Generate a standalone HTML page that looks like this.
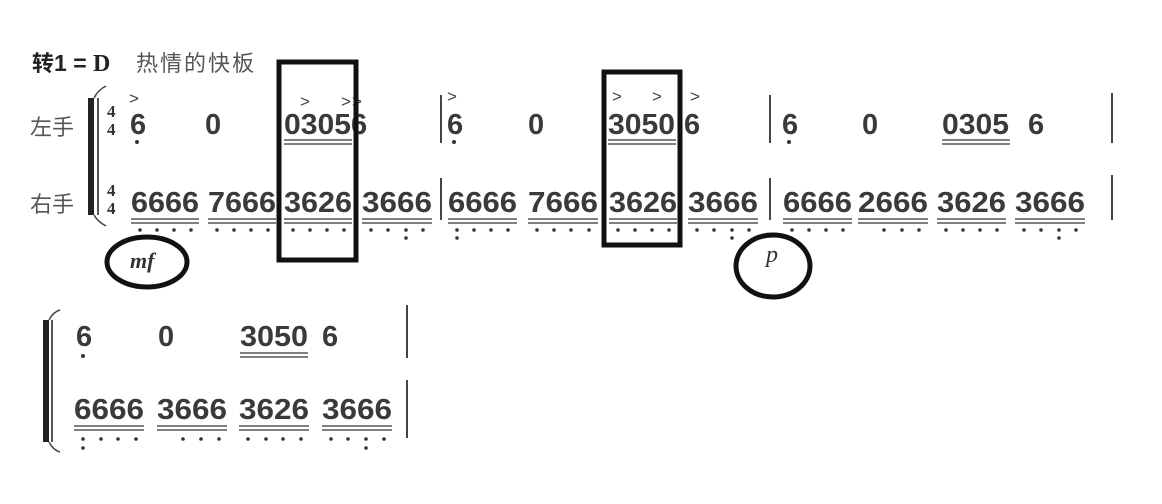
<!DOCTYPE html>
<html><head><meta charset="utf-8"><style>
html,body{margin:0;padding:0;background:#fff;}
svg{display:block}
.d{font-family:"Liberation Sans Narrow","Liberation Sans",sans-serif;font-size:29px;font-weight:bold;fill:#3a3a3a;}
.u{stroke:#555;stroke-width:1.6}
.k{fill:#333}
.acc{font-family:"Liberation Sans",sans-serif;font-size:17px;fill:#444}
</style></head><body>
<svg width="1162" height="504" viewBox="0 0 1162 504" xmlns="http://www.w3.org/2000/svg">
<rect width="1162" height="504" fill="#fff"/>
<text x="32" y="71" font-family="'Liberation Sans','Noto Sans CJK SC',sans-serif" font-size="22" font-weight="bold" fill="#222">转<tspan font-size="23">1 = </tspan><tspan font-family="'Liberation Serif',serif" font-size="24">D</tspan></text>
<text x="136" y="71" font-family="'Liberation Sans','Noto Sans CJK SC',sans-serif" font-size="22" fill="#555" letter-spacing="2">热情的快板</text>
<text x="30" y="135" font-family="'Liberation Sans','Noto Sans CJK SC',sans-serif" font-size="22" fill="#555">左手</text>
<text x="30" y="212" font-family="'Liberation Sans','Noto Sans CJK SC',sans-serif" font-size="22" fill="#555">右手</text>
<!-- brackets -->
<rect x="88" y="98" width="6" height="117" fill="#222"/>
<rect x="97" y="98" width="2" height="117" fill="#555"/>
<path d="M94 98 Q98 90 106 86 M94 215 Q98 222 106 226" stroke="#444" fill="none" stroke-width="1.5"/>
<rect x="43" y="320" width="6" height="122" fill="#222"/>
<rect x="51" y="320" width="2" height="122" fill="#555"/>
<path d="M49 320 Q53 312 60 310 M49 442 Q53 450 60 452" stroke="#444" fill="none" stroke-width="1.5"/>
<!-- time sigs -->
<g font-family="'Liberation Serif',serif" font-size="17" font-weight="bold" fill="#333">
<text x="107" y="117">4</text><text x="107" y="135">4</text>
<text x="107" y="196">4</text><text x="107" y="214">4</text>
</g>
<!-- bar lines -->
<g stroke="#444" stroke-width="2">
<line x1="441" y1="95" x2="441" y2="143"/><line x1="441" y1="178" x2="441" y2="220"/>
<line x1="770" y1="95" x2="770" y2="143"/><line x1="770" y1="178" x2="770" y2="220"/>
<line x1="1112" y1="93" x2="1112" y2="143"/><line x1="1112" y1="175" x2="1112" y2="220"/>
<line x1="407" y1="305" x2="407" y2="358"/><line x1="407" y1="380" x2="407" y2="438"/>
</g>
<!-- row1 -->
<g class="d">
<text x="130" y="134">6</text><text x="205" y="134">0</text>
<text x="284" y="134" textLength="67" lengthAdjust="spacingAndGlyphs">0305</text><text x="351" y="134">6</text>
<text x="447" y="134">6</text><text x="528" y="134">0</text>
<text x="608" y="134" textLength="67" lengthAdjust="spacingAndGlyphs">3050</text><text x="684" y="134">6</text>
<text x="782" y="134">6</text><text x="862" y="134">0</text>
<text x="942" y="134" textLength="67" lengthAdjust="spacingAndGlyphs">0305</text><text x="1028" y="134">6</text>
</g>
<g class="k"><circle cx="137" cy="142" r="2"/><circle cx="454" cy="142" r="2"/><circle cx="789" cy="142" r="2"/></g>
<g class="u">
<line x1="284" y1="140" x2="352" y2="140"/><line x1="284" y1="144" x2="352" y2="144"/>
<line x1="608" y1="140" x2="676" y2="140"/><line x1="608" y1="144" x2="676" y2="144"/>
<line x1="942" y1="140" x2="1010" y2="140"/><line x1="942" y1="144" x2="1010" y2="144"/>
</g>
<g class="acc">
<text x="129" y="104">&gt;</text><text x="300" y="107">&gt;</text><text x="341" y="107">&gt;</text><text x="352" y="107">&gt;</text>
<text x="447" y="102">&gt;</text><text x="612" y="102">&gt;</text><text x="652" y="102">&gt;</text><text x="690" y="102">&gt;</text>
</g>
<!-- row2 -->
<g class="d">
<text x="131" y="212" textLength="68" lengthAdjust="spacingAndGlyphs">6666</text>
<text x="208" y="212" textLength="68" lengthAdjust="spacingAndGlyphs">7666</text>
<text x="284" y="212" textLength="68" lengthAdjust="spacingAndGlyphs">3626</text>
<text x="362" y="212" textLength="70" lengthAdjust="spacingAndGlyphs">3666</text>
<text x="448" y="212" textLength="69" lengthAdjust="spacingAndGlyphs">6666</text>
<text x="528" y="212" textLength="70" lengthAdjust="spacingAndGlyphs">7666</text>
<text x="609" y="212" textLength="68" lengthAdjust="spacingAndGlyphs">3626</text>
<text x="688" y="212" textLength="70" lengthAdjust="spacingAndGlyphs">3666</text>
<text x="783" y="212" textLength="69" lengthAdjust="spacingAndGlyphs">6666</text>
<text x="858" y="212" textLength="70" lengthAdjust="spacingAndGlyphs">2666</text>
<text x="937" y="212" textLength="69" lengthAdjust="spacingAndGlyphs">3626</text>
<text x="1015" y="212" textLength="70" lengthAdjust="spacingAndGlyphs">3666</text>
</g>
<g class="u">
<line x1="131" y1="219" x2="199" y2="219"/><line x1="131" y1="223" x2="199" y2="223"/>
<line x1="208" y1="219" x2="276" y2="219"/><line x1="208" y1="223" x2="276" y2="223"/>
<line x1="284" y1="219" x2="352" y2="219"/><line x1="284" y1="223" x2="352" y2="223"/>
<line x1="362" y1="219" x2="432" y2="219"/><line x1="362" y1="223" x2="432" y2="223"/>
<line x1="448" y1="219" x2="517" y2="219"/><line x1="448" y1="223" x2="517" y2="223"/>
<line x1="528" y1="219" x2="598" y2="219"/><line x1="528" y1="223" x2="598" y2="223"/>
<line x1="609" y1="219" x2="677" y2="219"/><line x1="609" y1="223" x2="677" y2="223"/>
<line x1="688" y1="219" x2="758" y2="219"/><line x1="688" y1="223" x2="758" y2="223"/>
<line x1="783" y1="219" x2="852" y2="219"/><line x1="783" y1="223" x2="852" y2="223"/>
<line x1="858" y1="219" x2="928" y2="219"/><line x1="858" y1="223" x2="928" y2="223"/>
<line x1="937" y1="219" x2="1006" y2="219"/><line x1="937" y1="223" x2="1006" y2="223"/>
<line x1="1015" y1="219" x2="1085" y2="219"/><line x1="1015" y1="223" x2="1085" y2="223"/>
</g>
<g class="k">
<circle cx="140" cy="230" r="1.8"/><circle cx="157" cy="230" r="1.8"/><circle cx="174" cy="230" r="1.8"/><circle cx="191" cy="230" r="1.8"/>
<circle cx="217" cy="230" r="1.8"/><circle cx="234" cy="230" r="1.8"/><circle cx="251" cy="230" r="1.8"/><circle cx="268" cy="230" r="1.8"/>
<circle cx="293" cy="230" r="1.8"/><circle cx="310" cy="230" r="1.8"/><circle cx="327" cy="230" r="1.8"/><circle cx="344" cy="230" r="1.8"/>
<circle cx="371" cy="230" r="1.8"/><circle cx="388" cy="230" r="1.8"/><circle cx="406" cy="230" r="1.8"/><circle cx="406" cy="238" r="1.8"/><circle cx="423" cy="230" r="1.8"/>
<circle cx="457" cy="230" r="1.8"/><circle cx="457" cy="238" r="1.8"/><circle cx="474" cy="230" r="1.8"/><circle cx="491" cy="230" r="1.8"/><circle cx="508" cy="230" r="1.8"/>
<circle cx="537" cy="230" r="1.8"/><circle cx="554" cy="230" r="1.8"/><circle cx="571" cy="230" r="1.8"/><circle cx="589" cy="230" r="1.8"/>
<circle cx="618" cy="230" r="1.8"/><circle cx="635" cy="230" r="1.8"/><circle cx="652" cy="230" r="1.8"/><circle cx="669" cy="230" r="1.8"/>
<circle cx="697" cy="230" r="1.8"/><circle cx="714" cy="230" r="1.8"/><circle cx="732" cy="230" r="1.8"/><circle cx="732" cy="238" r="1.8"/><circle cx="749" cy="230" r="1.8"/>
<circle cx="792" cy="230" r="1.8"/><circle cx="809" cy="230" r="1.8"/><circle cx="826" cy="230" r="1.8"/><circle cx="843" cy="230" r="1.8"/>
<circle cx="884" cy="230" r="1.8"/><circle cx="902" cy="230" r="1.8"/><circle cx="919" cy="230" r="1.8"/>
<circle cx="946" cy="230" r="1.8"/><circle cx="963" cy="230" r="1.8"/><circle cx="980" cy="230" r="1.8"/><circle cx="997" cy="230" r="1.8"/>
<circle cx="1024" cy="230" r="1.8"/><circle cx="1041" cy="230" r="1.8"/><circle cx="1059" cy="230" r="1.8"/><circle cx="1059" cy="238" r="1.8"/><circle cx="1076" cy="230" r="1.8"/>
</g>
<!-- boxes -->
<rect x="279" y="62" width="77" height="198" fill="none" stroke="#111" stroke-width="5"/>
<rect x="604" y="72" width="76" height="173" fill="none" stroke="#111" stroke-width="5"/>
<!-- dynamics -->
<ellipse cx="147" cy="262" rx="40" ry="25" fill="none" stroke="#111" stroke-width="5"/>
<text x="130" y="268" font-family="'Liberation Serif',serif" font-style="italic" font-weight="bold" font-size="22" fill="#333">mf</text>
<ellipse cx="773" cy="266" rx="37" ry="31" fill="none" stroke="#111" stroke-width="5"/>
<text x="766" y="262" font-family="'Liberation Serif',serif" font-style="italic" font-size="24" fill="#333">p</text>
<!-- row3 -->
<g class="d">
<text x="76" y="346">6</text><text x="158" y="346">0</text>
<text x="240" y="346" textLength="68" lengthAdjust="spacingAndGlyphs">3050</text><text x="322" y="346">6</text>
</g>
<circle cx="83" cy="356" r="2" class="k"/>
<g class="u"><line x1="240" y1="353" x2="308" y2="353"/><line x1="240" y1="357" x2="308" y2="357"/></g>
<!-- row4 -->
<g class="d">
<text x="74" y="419" textLength="70" lengthAdjust="spacingAndGlyphs">6666</text>
<text x="157" y="419" textLength="70" lengthAdjust="spacingAndGlyphs">3666</text>
<text x="239" y="419" textLength="70" lengthAdjust="spacingAndGlyphs">3626</text>
<text x="322" y="419" textLength="70" lengthAdjust="spacingAndGlyphs">3666</text>
</g>
<g class="u">
<line x1="74" y1="426" x2="144" y2="426"/><line x1="74" y1="430" x2="144" y2="430"/>
<line x1="157" y1="426" x2="227" y2="426"/><line x1="157" y1="430" x2="227" y2="430"/>
<line x1="239" y1="426" x2="309" y2="426"/><line x1="239" y1="430" x2="309" y2="430"/>
<line x1="322" y1="426" x2="392" y2="426"/><line x1="322" y1="430" x2="392" y2="430"/>
</g>
<g class="k">
<circle cx="83" cy="439" r="1.8"/><circle cx="83" cy="448" r="1.8"/><circle cx="101" cy="439" r="1.8"/><circle cx="118" cy="439" r="1.8"/><circle cx="136" cy="439" r="1.8"/>
<circle cx="183" cy="439" r="1.8"/><circle cx="201" cy="439" r="1.8"/><circle cx="219" cy="439" r="1.8"/>
<circle cx="248" cy="439" r="1.8"/><circle cx="266" cy="439" r="1.8"/><circle cx="283" cy="439" r="1.8"/><circle cx="301" cy="439" r="1.8"/>
<circle cx="331" cy="439" r="1.8"/><circle cx="348" cy="439" r="1.8"/><circle cx="366" cy="439" r="1.8"/><circle cx="366" cy="448" r="1.8"/><circle cx="384" cy="439" r="1.8"/>
</g>
</svg>
</body></html>
